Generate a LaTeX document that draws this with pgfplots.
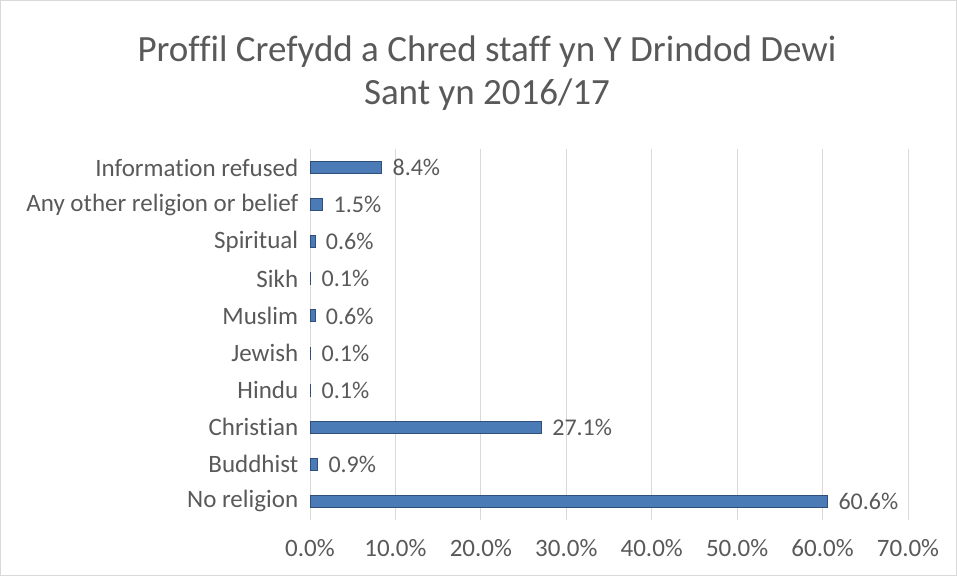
\documentclass[border=0pt]{standalone}
\usepackage{fontspec}
\setmainfont[Ligatures=NoCommon]{Carlito}
\usepackage{pgfplots}
\pgfplotsset{compat=1.18}
\definecolor{txt}{HTML}{595959}
\definecolor{gridc}{HTML}{D9D9D9}
\definecolor{barfill}{HTML}{4A7BB7}
\definecolor{baredge}{HTML}{2F4F7A}

\begin{document}
\begin{tikzpicture}[x=1pt,y=1pt]
  \useasboundingbox (0,0) rectangle (957,576);
  \draw[gridc] (0.5,0.5) rectangle (956.5,575.5);
  \node[text=txt, align=center, font=\fontsize{37}{43}\selectfont] at (487,503)
    {Proffil Crefydd a Chred staff yn Y Drindod Dewi\\Sant yn 2016/17};
  \begin{axis}[
    at={(310pt,56pt)}, anchor=south west,
    scale only axis,
    width=598pt, height=371pt,
    xbar,
    bar width=12pt,
    xmin=0, xmax=70,
    ymin=-0.5, ymax=9.5,
    xtick={0,10,...,70},
    ytick={0,...,9},
    yticklabels={No religion,Buddhist,Christian,Hindu,Jewish,Muslim,Sikh,Spiritual,Any other religion or belief,Information refused},
    xticklabel={\pgfmathprintnumber[fixed,fixed zerofill,precision=1]{\tick}\%},
    /pgf/number format/assume math mode=true,
    tick style={draw=none},
    axis line style={draw=none},
    xmajorgrids,
    grid style={gridc, line width=1pt},
    ticklabel style={text=txt, font=\fontsize{25}{29}\selectfont},
    xticklabel style={yshift=-16pt},
    yticklabel style={xshift=-4pt},
    point meta=x,
    nodes near coords={\pgfmathprintnumber[fixed,fixed zerofill,precision=1]{\pgfplotspointmeta}\%},
    nodes near coords style={anchor=west, xshift=7pt, text=txt, font=\fontsize{24}{28}\selectfont},
  ]
    \addplot[fill=barfill, draw=baredge, line width=1pt] coordinates {
      (60.6,0) (0.9,1) (27.1,2) (0.1,3) (0.1,4)
      (0.6,5) (0.1,6) (0.6,7) (1.5,8) (8.4,9)
    };
  \end{axis}
\end{tikzpicture}
\end{document}
